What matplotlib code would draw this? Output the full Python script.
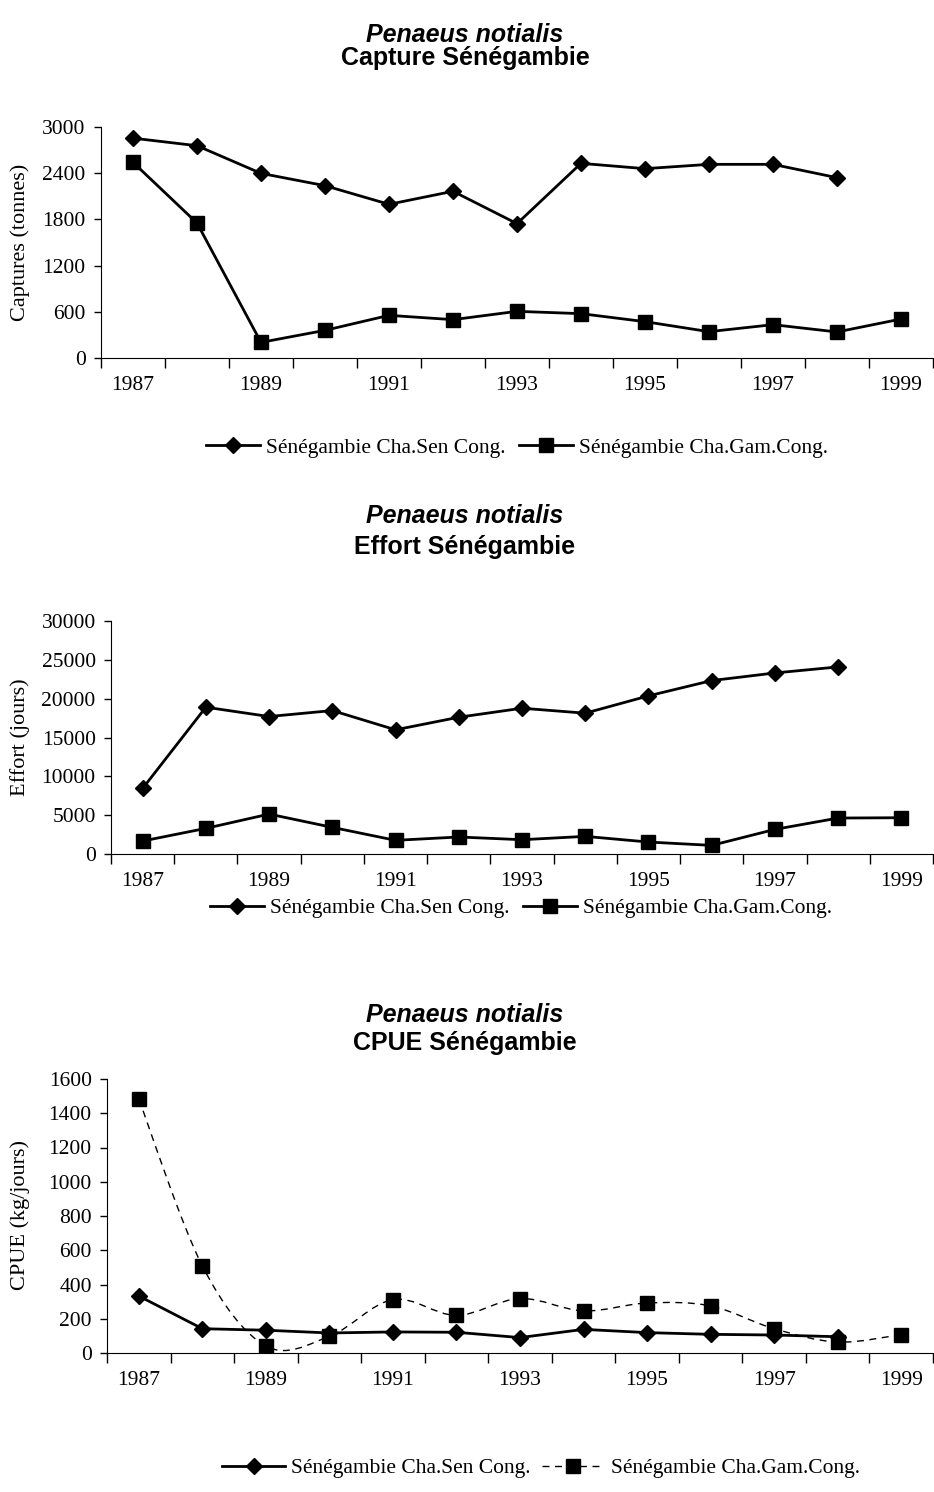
import numpy as np
import matplotlib
matplotlib.use('Agg')
import matplotlib.pyplot as plt
from matplotlib.path import Path
from matplotlib.patches import PathPatch
from matplotlib.lines import Line2D

# Data
years = list(range(1987, 2000))
capture_sen = [2855, 2757, 2398, 2238, 1996, 2165, 1745, 2528, 2459, 2515, 2515, 2342]
capture_gam = [2541, 1753, 203, 359, 554, 498, 606, 576, 472, 342, 433, 338, 506]
effort_sen = [8440, 18900, 17700, 18470, 15990, 17610, 18770, 18130, 20360, 22330, 23310, 24090]
effort_gam = [1670, 3300, 5140, 3430, 1760, 2190, 1840, 2270, 1540, 1110, 3170, 4630, 4670]
cpue_sen = [333, 142, 133, 117, 123, 121, 90, 138, 119, 109, 105, 95]
cpue_gam = [1483, 509, 41, 97, 312, 220, 318, 246, 292, 275, 142, 64, 107]

label_sen = 'Sénégambie Cha.Sen Cong.'
label_gam = 'Sénégambie Cha.Gam.Cong.'
species = 'Penaeus notialis'

W, H = 934, 1492
SERIF = 'Liberation Serif'
SANS = 'Liberation Sans'
FS = 15.5

fig = plt.figure(figsize=(W / 100, H / 100), dpi=100)


def px_axes(left, top, right, bottom):
    return fig.add_axes([left / W, 1 - bottom / H, (right - left) / W, (bottom - top) / H])


def setup(ax, ymax, ystep):
    ax.set_xlim(-0.5, 12.5)
    ax.set_ylim(0, ymax)
    ax.set_yticks(np.arange(0, ymax + 1, ystep))
    ax.set_xticks(np.arange(-0.5, 13, 1))
    ax.set_xticklabels([])
    ax.set_xticks(range(0, 13, 2), minor=True)
    ax.set_xticklabels([str(y) for y in years[::2]], minor=True)
    ax.tick_params(axis='x', which='major', direction='out', length=7, width=1)
    ax.tick_params(axis='x', which='minor', length=0, pad=13)
    ax.tick_params(axis='y', direction='out', length=5, width=1, pad=6)
    for lab in ax.get_xticklabels(minor=True) + ax.get_yticklabels():
        lab.set_fontfamily(SERIF)
        lab.set_fontsize(FS)
    ax.spines['top'].set_visible(False)
    ax.spines['right'].set_visible(False)
    ax.set_facecolor('none')


def titles(y1, y2, second):
    fig.text(465 / W, 1 - y1 / H, species, ha='center', va='center', fontsize=18,
             fontweight='bold', style='italic', family=SANS)
    fig.text(465 / W, 1 - y2 / H, second, ha='center', va='center', fontsize=18,
             fontweight='bold', family=SANS)


def ylabel(yc, text):
    fig.text(20 / W, 1 - yc / H, text, ha='center', va='center', rotation=90,
             fontsize=FS + 0.5, family=SERIF)


def legend(handles, cx, cy, hl, cs=0.6):
    fig.legend(handles, [label_sen, label_gam], loc='center', bbox_to_anchor=(cx / W, 1 - cy / H),
               ncol=2, frameon=False, handlelength=hl, handletextpad=0.3, columnspacing=cs,
               prop={'family': SERIF, 'size': FS})


x_sen = np.arange(len(capture_sen))
x_gam = np.arange(len(capture_gam))
sen_style = dict(color='black', lw=2, marker='D', ms=8, mfc='black', mec='black')
gam_style = dict(color='black', lw=2, marker='s', ms=10.5, mfc='black', mec='black')

# Chart 1: captures
titles(35, 58, 'Capture Sénégambie')
ax1 = px_axes(101, 127, 933, 358)
l1, = ax1.plot(x_sen, capture_sen, **sen_style)
l2, = ax1.plot(x_gam, capture_gam, **gam_style)
setup(ax1, 3000, 600)
ylabel(242, 'Captures (tonnes)')
legend([l1, l2], 517, 448, 2.5)

# Chart 2: effort
titles(516, 547, 'Effort Sénégambie')
ax2 = px_axes(111, 621, 933, 854)
l1, = ax2.plot(x_sen, effort_sen, **sen_style)
l2, = ax2.plot(x_gam, effort_gam, **gam_style)
setup(ax2, 30000, 5000)
ylabel(737, 'Effort (jours)')
legend([l1, l2], 521, 908, 2.5)

# Chart 3: CPUE, Gambia series drawn as a smoothed dashed curve (Excel style)
titles(1015, 1043, 'CPUE Sénégambie')
ax3 = px_axes(107, 1079, 933, 1353)
pts = np.column_stack([x_gam, cpue_gam]).astype(float)
verts = [pts[0]]
codes = [Path.MOVETO]
n = len(pts)
for i in range(n - 1):
    p0 = pts[i - 1] if i > 0 else pts[i]
    p3 = pts[i + 2] if i + 2 < n else pts[i + 1]
    c1 = pts[i] + (pts[i + 1] - p0) / 6
    c2 = pts[i + 1] - (p3 - pts[i]) / 6
    verts += [c1, c2, pts[i + 1]]
    codes += [Path.CURVE4] * 3
ax3.add_patch(PathPatch(Path(verts, codes), fill=False, ec='black', lw=1,
                        linestyle=(0, (5, 4))))
ax3.plot(x_gam, cpue_gam, ls='none', marker='s', ms=10.5, mfc='black', mec='black')
ax3.plot(x_sen, cpue_sen, **sen_style)
setup(ax3, 1600, 200)
ylabel(1215, 'CPUE (kg/jours)')
h1 = Line2D([], [], **sen_style)
h2 = Line2D([], [], color='black', lw=1, ls=(0, (5, 4)), marker='s', ms=10.5, mfc='black', mec='black')
legend([h1, h2], 541, 1468, 2.9, cs=0.5)

fig.savefig('out.png', dpi=100)
